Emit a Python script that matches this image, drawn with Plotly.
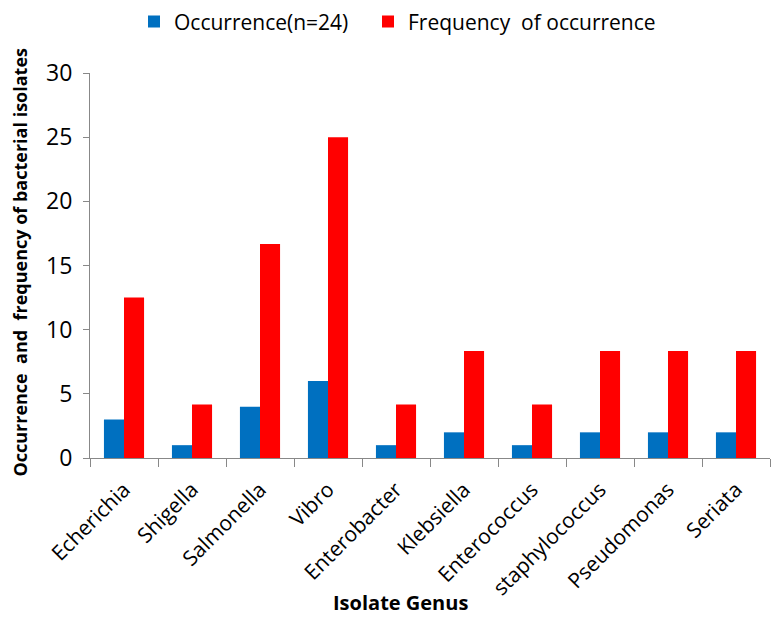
import plotly.graph_objects as go

genera = ["Echerichia", "Shigella", "Salmonella", "Vibro", "Enterobacter",
          "Klebsiella", "Enterococcus", "staphylococcus", "Pseudomonas", "Seriata"]
occurrence = [3, 1, 4, 6, 1, 2, 1, 2, 2, 2]
frequency = [12.5, 4.17, 16.67, 25.0, 4.17, 8.33, 4.17, 8.33, 8.33, 8.33]

FONT = "Open Sans"

fig = go.Figure()
fig.add_trace(go.Bar(name="Occurrence(n=24)", x=genera, y=occurrence,
                     marker=dict(color="#0070C0", line=dict(width=0)),
                     legend="legend"))
fig.add_trace(go.Bar(name="Frequency  of occurrence", x=genera, y=frequency,
                     marker=dict(color="#FF0000", line=dict(width=0)),
                     legend="legend2"))

legend_style = dict(orientation="h", xanchor="left", xref="container",
                    y=0.998, yanchor="top", yref="container",
                    font=dict(size=21, family=FONT), itemwidth=30,
                    bgcolor="rgba(0,0,0,0)")

fig.update_layout(
    width=773, height=618,
    margin=dict(l=90, r=3, t=73, b=160),
    paper_bgcolor="white", plot_bgcolor="white",
    barmode="group", bargap=0.41, bargroupgap=0,
    font=dict(family=FONT, color="black", size=18),
    legend=dict(x=134 / 773, **legend_style),
    legend2=dict(x=368 / 773, **legend_style),
    showlegend=True,
)

fig.update_xaxes(
    type="category", tickangle=-45, tickson="boundaries", ticks="outside",
    ticklen=8, tickcolor="#888888", showline=True, linecolor="#888888",
    linewidth=1, showgrid=False, tickfont=dict(size=21, family=FONT),
    ticklabelstandoff=10,
)
fig.update_yaxes(
    range=[0, 30], dtick=5, ticks="outside", ticklen=6, tickcolor="#888888",
    showline=True, linecolor="#888888", linewidth=1, showgrid=False,
    zeroline=False, tickfont=dict(size=23, family=FONT), ticklabelstandoff=6,
)

fig.add_annotation(text="<b>Occurrence  and  frequency of bacterial isolates</b>",
                   xref="paper", yref="paper", x=-0.103, y=0.51, textangle=-90,
                   showarrow=False, xanchor="center", yanchor="middle",
                   font=dict(size=18, family=FONT))
fig.add_annotation(text="<b>Isolate Genus</b>", xref="paper", yref="paper",
                   x=0.457, y=-0.4156, showarrow=False, xanchor="center",
                   yanchor="bottom", font=dict(size=20, family=FONT))

fig.write_html("out.html")
